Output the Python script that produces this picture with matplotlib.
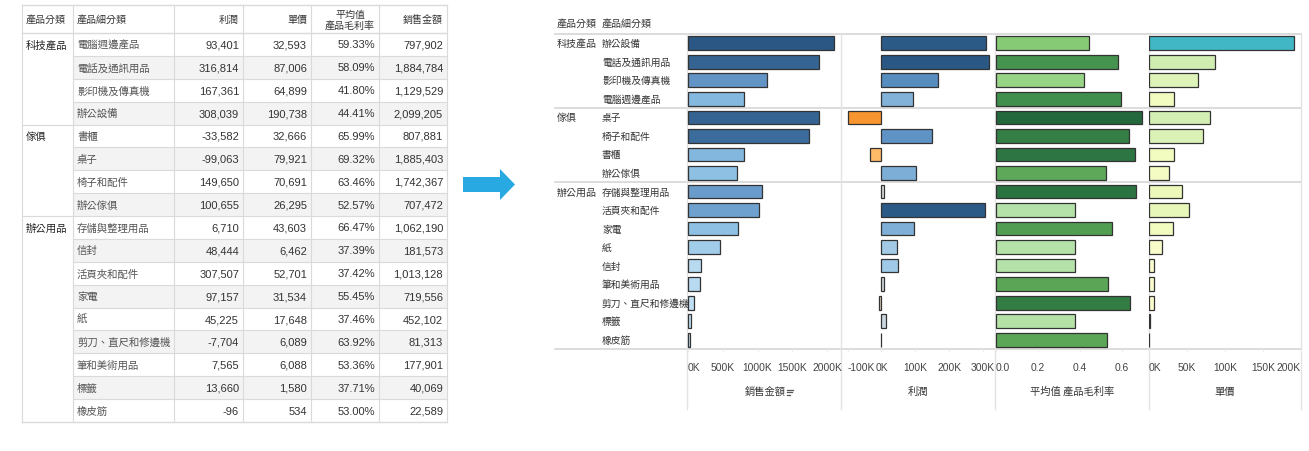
import numpy as np
import matplotlib
matplotlib.use("Agg")
import matplotlib.pyplot as plt
from matplotlib.colors import LinearSegmentedColormap, Normalize
from matplotlib.patches import Rectangle

plt.rcParams['font.family'] = ['Noto Sans CJK TC', 'DejaVu Sans']

# 資料 (表格順序)
categories = ['科技產品', '傢俱', '辦公用品']
category = ['科技產品'] * 4 + ['傢俱'] * 4 + ['辦公用品'] * 9
subcats = ['電腦週邊產品', '電話及通訊用品', '影印機及傳真機', '辦公設備',
           '書櫃', '桌子', '椅子和配件', '辦公傢俱',
           '存儲與整理用品', '信封', '活頁夾和配件', '家電', '紙',
           '剪刀、直尺和修邊機', '筆和美術用品', '標籤', '橡皮筋']
profit = [93401, 316814, 167361, 308039, -33582, -99063, 149650, 100655,
          6710, 48444, 307507, 97157, 45225, -7704, 7565, 13660, -96]
price = [32593, 87006, 64899, 190738, 32666, 79921, 70691, 26295,
         43603, 6462, 52701, 31534, 17648, 6089, 6088, 1580, 534]
margin = [0.5933, 0.5809, 0.4180, 0.4441, 0.6599, 0.6932, 0.6346, 0.5257,
          0.6647, 0.3739, 0.3742, 0.5545, 0.3746, 0.6392, 0.5336, 0.3771, 0.5300]
sales = [797902, 1884784, 1129529, 2099205, 807881, 1885403, 1742367, 707472,
         1062190, 181573, 1013128, 719556, 452102, 81313, 177901, 40069, 22589]

table_headers = ['產品分類', '產品細分類', '利潤', '單價', '平均值\n產品毛利率', '銷售金額']
panel_titles = ['銷售金額', '利潤', '平均值 產品毛利率', '單價']

W, H = 1309, 452
fig = plt.figure(figsize=(W / 100, H / 100), dpi=100)
ov = fig.add_axes([0, 0, 1, 1])
ov.set_xlim(0, W)
ov.set_ylim(H, 0)
ov.axis('off')

# ---------- 左邊表格 ----------
col_x = [22, 73, 174, 243, 311, 379, 447]
head_top, head_bot, tab_bot = 6, 34, 423
n = len(subcats)
row_h = (tab_bot - head_bot) / n
grid_c = '#dadada'
tfont = ['Liberation Sans', 'Noto Sans CJK TC']

for i in range(n):
    y0 = head_bot + i * row_h
    if i % 2 == 1:
        ov.add_patch(Rectangle((col_x[1], y0), col_x[-1] - col_x[1], row_h,
                               fc='#f3f3f3', ec='none', zorder=0))
for i in range(1, n):
    y = head_bot + i * row_h
    x0 = col_x[0] if category[i] != category[i - 1] else col_x[1]
    ov.plot([x0, col_x[-1]], [y, y], color=grid_c, lw=0.8, zorder=1)
for y in [head_top, head_bot, tab_bot]:
    ov.plot([col_x[0], col_x[-1]], [y, y], color=grid_c, lw=1.0, zorder=1)
for x in col_x:
    ov.plot([x, x], [head_top, tab_bot], color=grid_c, lw=0.8, zorder=1)

hy = (head_top + head_bot) / 2
for j, h in enumerate(table_headers):
    if j < 2:
        ov.text(col_x[j] + 4, hy, h, ha='left', va='center', fontsize=7.2, color='#333333')
    else:
        ov.text(col_x[j + 1] - 4, hy, h, ha='right', va='center', fontsize=7.2,
                color='#333333', multialignment='center', linespacing=1.1)

for i in range(n):
    yc = head_bot + (i + 0.5) * row_h
    if i == 0 or category[i] != category[i - 1]:
        ov.text(col_x[0] + 4, yc, category[i], ha='left', va='center',
                fontsize=7.5, color='#222222')
    ov.text(col_x[1] + 4, yc, subcats[i], ha='left', va='center', fontsize=7.5, color='#555555')
    vals = [f'{profit[i]:,}', f'{price[i]:,}', f'{margin[i] * 100:.2f}%', f'{sales[i]:,}']
    for j, v in enumerate(vals):
        ov.text(col_x[j + 3] - 4, yc, v, ha='right', va='center', fontsize=8,
                color='#333333', family=tfont)

# ---------- 箭頭 ----------
ov.fill([463, 500, 500, 515, 500, 500, 463], [178, 178, 170, 185.5, 201, 193, 193],
        color='#29a9e1', lw=0)

# ---------- 右邊長條圖 ----------
order = []
for c in categories:
    idx = [i for i in range(n) if category[i] == c]
    order += sorted(idx, key=lambda i: -sales[i])

row_top, row_bot = 35, 350
rh = (row_bot - row_top) / n
line_c = '#d6d6d6'
panel_x = [687, 841, 995, 1149, 1301]

ov.text(557, 24, '產品分類', ha='left', va='center', fontsize=7.2, color='#333333')
ov.text(602, 24, '產品細分類', ha='left', va='center', fontsize=7.2, color='#333333')
for r, i in enumerate(order):
    yc = row_top + (r + 0.5) * rh
    if r == 0 or category[i] != category[order[r - 1]]:
        ov.text(557, yc, category[i], ha='left', va='center', fontsize=7.2, color='#333333')
        if r > 0:
            yl = row_top + r * rh
            ov.plot([555, panel_x[-1]], [yl, yl], color=line_c, lw=1.2, zorder=1)
    ov.text(602, yc, subcats[i], ha='left', va='center', fontsize=7.0, color='#333333')
for y in [row_top, row_bot]:
    ov.plot([555, panel_x[-1]], [y, y], color=line_c, lw=1.2, zorder=1)
for x in panel_x:
    ov.plot([x, x], [row_top, 410], color='#e3e3e3', lw=1.0, zorder=1)

cm_sales = LinearSegmentedColormap.from_list('s', [(0, '#c6e3f6'), (0.35, '#8cbfe3'),
                                                  (0.55, '#5f92c3'), (0.85, '#3a6a99'),
                                                  (1, '#2a5783')])
cm_profit = LinearSegmentedColormap.from_list('p', [(0, '#c0561a'), (0.34, '#f7962f'),
                                                   (0.45, '#ffbc6a'), (0.5, '#dcdcdc'),
                                                   (0.58, '#9cc8e6'), (0.75, '#5a8fc2'),
                                                   (1, '#2a5783')])
cm_margin = LinearSegmentedColormap.from_list('m', [(0, '#b5e2a8'), (0.2, '#8acd77'),
                                                   (0.5, '#5aa556'), (0.7, '#3e8d4b'),
                                                   (1, '#24693d')])
cm_price = LinearSegmentedColormap.from_list('u', [(0, '#fefed3'), (0.2, '#f0fabc'),
                                                  (0.46, '#cfedb2'), (1, '#41b6c4')])

pmax = max(abs(v) for v in profit)
panels = [
    (sales, cm_sales, Normalize(0, max(sales)), (-15e3, 2198e3),
     [0, 500e3, 1000e3, 1500e3, 2000e3], ['0K', '500K', '1000K', '1500K', '2000K']),
    (profit, cm_profit, Normalize(-pmax, pmax), (-119.8e3, 335.8e3),
     [-100e3, 0, 100e3, 200e3, 300e3], ['-100K', '0K', '100K', '200K', '300K']),
    (margin, cm_margin, Normalize(min(margin), max(margin)), (-0.005, 0.7286),
     [0, 0.2, 0.4, 0.6], ['0.0', '0.2', '0.4', '0.6']),
    (price, cm_price, Normalize(0, max(price)), (0, 200e3),
     [0, 50e3, 100e3, 150e3, 200e3], ['0K', '50K', '100K', '150K', '200K']),
]
tick_font = ['Liberation Sans', 'DejaVu Sans']

for k, (vals, cmap, norm, xl, ticks, labels) in enumerate(panels):
    x0, x1 = panel_x[k], panel_x[k + 1]
    ax = fig.add_axes([x0 / W, (H - row_bot) / H, (x1 - x0) / W, (row_bot - row_top) / H])
    ax.patch.set_alpha(0)
    v = np.array([vals[i] for i in order], dtype=float)
    ax.barh(np.arange(n) + 0.5, v, height=0.74, color=cmap(norm(v)),
            edgecolor='#333333', linewidth=0.9)
    ax.set_xlim(*xl)
    ax.set_ylim(n, 0)
    ax.set_yticks([])
    for s in ax.spines.values():
        s.set_visible(False)
    ax.set_xticks(ticks)
    ax.set_xticklabels(labels, family=tick_font, fontsize=7.4, color='#444444')
    ax.tick_params(axis='x', length=2.5, color='#ececec', pad=7)
    tl = ax.get_xticklabels()
    tl[0].set_ha('left')
    if k == 3:
        tl[-1].set_ha('right')

title_x = [765, 918, 1072, 1225]
for k, t in enumerate(panel_titles):
    ov.text(title_x[k], 392, t, ha='center', va='center', fontsize=7.4, color='#333333')
# 排序圖示
for dy, ln in [(-2.5, 6), (0, 4.5), (2.5, 3)]:
    ov.plot([787, 787 + ln], [393 + dy, 393 + dy], color='#555555', lw=0.9)

fig.savefig('out.png', dpi=100)
